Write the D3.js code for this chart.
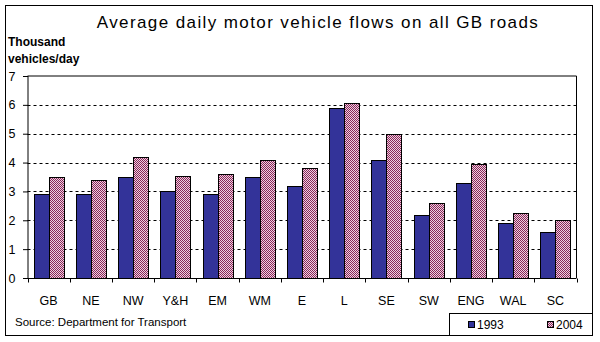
<!DOCTYPE html>
<html>
<head>
<meta charset="utf-8">
<script src="https://cdn.jsdelivr.net/npm/d3@7"></script>
<style>
  html, body { margin: 0; padding: 0; background: #fff; }
  svg { display: block; font-family: "Liberation Sans", Arial, sans-serif; }
</style>
</head>
<body>
<svg id="chart" width="600" height="342"></svg>
<script>
// Regions of Great Britain
const categories = ["GB", "NE", "NW", "Y&H", "EM", "WM", "E", "L", "SE", "SW", "ENG", "WAL", "SC"];
// Thousand vehicles per day
const flows1993 = [2.9, 2.9, 3.5, 3.0, 2.9, 3.5, 3.2, 5.9, 4.1, 2.2, 3.3, 1.9, 1.6];
const flows2004 = [3.5, 3.4, 4.2, 3.55, 3.6, 4.1, 3.8, 6.05, 5.0, 2.6, 3.95, 2.25, 2.0];
const seriesNames = ["1993", "2004"];
const yTicks = [0, 1, 2, 3, 4, 5, 6, 7];

const svg = d3.select("#chart");

// checker fill for the 2004 series
const defs = svg.append("defs");
const pat = defs.append("pattern")
  .attr("id", "checker")
  .attr("width", 2).attr("height", 2)
  .attr("patternUnits", "userSpaceOnUse");
pat.append("rect").attr("width", 2).attr("height", 2).attr("fill", "#ecd2e0");
pat.append("rect").attr("x", 0).attr("y", 0).attr("width", 1).attr("height", 1).attr("fill", "#8a2558");
pat.append("rect").attr("x", 1).attr("y", 1).attr("width", 1).attr("height", 1).attr("fill", "#8a2558");

const fills = ["#333399", "url(#checker)"];

// outer frame
svg.append("rect")
  .attr("x", 5.5).attr("y", 5.5).attr("width", 587).attr("height", 330)
  .attr("fill", "none").attr("stroke", "#000").attr("stroke-width", 1);

// title
svg.append("text")
  .attr("x", 318).attr("y", 28)
  .attr("text-anchor", "middle")
  .attr("font-size", 17)
  .attr("letter-spacing", 1.4)
  .text("Average daily motor vehicle flows on all GB roads");

// axis title
const yTitle = svg.append("text").attr("font-size", 12).attr("font-weight", "bold");
yTitle.append("tspan").attr("x", 8).attr("y", 46).text("Thousand");
yTitle.append("tspan").attr("x", 8).attr("y", 63).text("vehicles/day");

const plot = { left: 27.5, right: 576.5, top: 76, bottom: 278 };

const x = d3.scaleBand().domain(categories).range([plot.left, plot.right]).paddingInner(0).paddingOuter(0);
const y = d3.scaleLinear().domain([0, 7]).range([plot.bottom, plot.top]);
const barW = 15;
const groupOffset = (x.bandwidth() - 2 * barW) / 2;

// plot frame (top and right edges)
svg.append("path")
  .attr("d", `M${plot.left},${plot.top}H${plot.right}V${plot.bottom}`)
  .attr("fill", "none").attr("stroke", "#000");

// dashed gridlines
svg.append("g").selectAll("line")
  .data(yTicks.filter(t => t > 0 && t < 7))
  .join("line")
  .attr("x1", plot.left).attr("x2", plot.right)
  .attr("y1", d => Math.round(y(d)) + 0.5).attr("y2", d => Math.round(y(d)) + 0.5)
  .attr("stroke", "#000").attr("stroke-dasharray", "3,3");

// bars
const series = [flows1993, flows2004];
series.forEach((vals, si) => {
  svg.append("g").selectAll("rect")
    .data(vals)
    .join("rect")
    .attr("x", (d, i) => Math.round(x(categories[i]) + groupOffset + si * barW) + 0.5)
    .attr("y", d => Math.round(y(d)) + 0.5)
    .attr("width", barW)
    .attr("height", d => Math.round(y(0)) - Math.round(y(d)))
    .attr("fill", fills[si])
    .attr("stroke", "#000").attr("stroke-width", 1);
});

// y axis
const yAxis = svg.append("g")
  .attr("transform", `translate(${plot.left},0)`)
  .call(d3.axisLeft(y).tickValues(yTicks).tickSize(5).tickPadding(7).tickFormat(d3.format("d")));
yAxis.select(".domain").attr("d", `M0.5,${plot.top}V${plot.bottom}`);
yAxis.selectAll("text").attr("font-size", 12.5).attr("font-family", "Liberation Sans, Arial, sans-serif");
yAxis.selectAll(".tick line").attr("x1", 0.5).attr("x2", -4.5);

// x axis
const xAxis = svg.append("g")
  .attr("transform", `translate(0,${Math.round(plot.bottom) + 0.5})`)
  .call(d3.axisBottom(x).tickSize(0).tickPadding(18));
xAxis.select(".domain").attr("d", `M${plot.left},0H${plot.right}`);
xAxis.selectAll("text").attr("font-size", 12.5).attr("font-family", "Liberation Sans, Arial, sans-serif");
// ticks between categories
xAxis.append("g").selectAll("line")
  .data(categories.map(c => x(c)).concat([plot.right]))
  .join("line")
  .attr("x1", d => Math.round(d) + 0.5).attr("x2", d => Math.round(d) + 0.5)
  .attr("y1", 0).attr("y2", 4)
  .attr("stroke", "#000");

// source note
svg.append("text")
  .attr("x", 15).attr("y", 326)
  .attr("font-size", 11.5)
  .text("Source: Department for Transport");

// legend
const lg = svg.append("g");
lg.append("rect")
  .attr("x", 449.5).attr("y", 313.5).attr("width", 143).attr("height", 22)
  .attr("fill", "#fff").attr("stroke", "#000");
const legendX = [468, 547];
seriesNames.forEach((name, i) => {
  lg.append("rect")
    .attr("x", legendX[i] + 0.5).attr("y", 321.5).attr("width", 6).attr("height", 6)
    .attr("fill", fills[i]).attr("stroke", "#000");
  lg.append("text")
    .attr("x", legendX[i] + 9).attr("y", 329)
    .attr("font-size", 12)
    .text(name);
});
</script>
</body>
</html>
